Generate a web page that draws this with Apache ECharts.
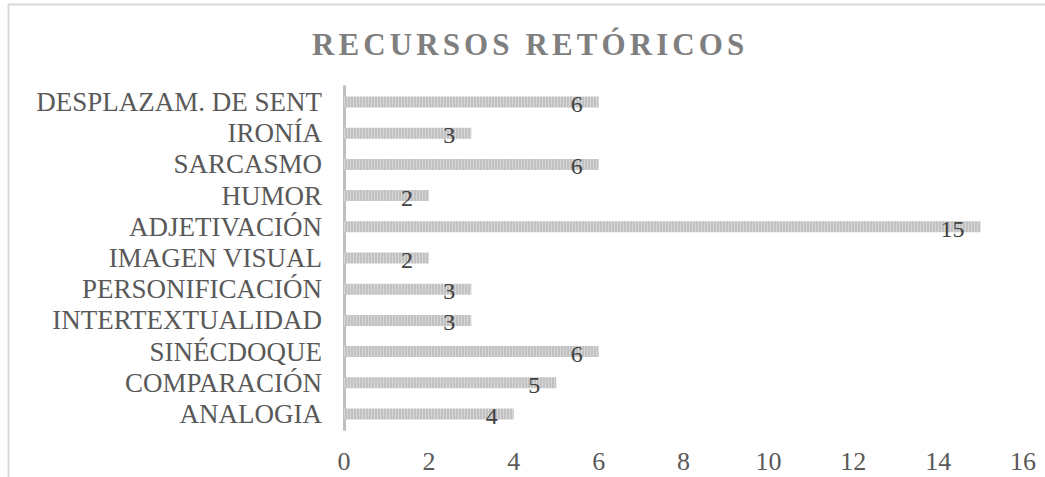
<!DOCTYPE html>
<html>
<head>
<meta charset="utf-8">
<script src="https://cdn.jsdelivr.net/npm/echarts@6/dist/echarts.min.js"></script>
<style>
html,body{margin:0;padding:0;background:#fff;}
#chart{width:1045px;height:477px;}
</style>
</head>
<body>
<div id="chart"></div>
<script>
const titleText = 'RECURSOS RETÓRICOS';
const categories = ['ANALOGIA','COMPARACIÓN','SINÉCDOQUE','INTERTEXTUALIDAD','PERSONIFICACIÓN','IMAGEN VISUAL','ADJETIVACIÓN','HUMOR','SARCASMO','IRONÍA','DESPLAZAM. DE SENT'];
const values = [4,5,6,3,3,2,15,2,6,3,6];
const xTicks = {min:0, max:16, interval:2};

const FONT = "'Liberation Serif','Times New Roman',serif";

// striped pattern for bars
const pc = document.createElement('canvas');
pc.width = 3; pc.height = 4;
const pctx = pc.getContext('2d');
pctx.fillStyle = '#c2c2c2'; pctx.fillRect(0,0,3,4);
pctx.fillStyle = '#d6d6d6'; pctx.fillRect(2,0,1,4);
const patternUrl = pc.toDataURL();

const chart = echarts.init(document.getElementById('chart'), null, {renderer:'svg'});
chart.setOption({
  animation:false,
  backgroundColor:'#fff',
  title:{
    text:titleText,
    left:307, top:24,
    textStyle:{fontFamily:FONT,fontSize:31,fontWeight:'bold',color:'#7f7f7f'}
  },
  graphic:[{
    type:'rect', silent:true,
    shape:{x:8.5,y:4.5,width:1200,height:700},
    style:{fill:'none',stroke:'#d9d9d9',lineWidth:2}
  }],
  grid:{left:344,right:22,top:86.4,bottom:47.4,containLabel:false},
  xAxis:{
    type:'value', min:xTicks.min, max:xTicks.max, interval:xTicks.interval,
    axisLine:{show:false}, axisTick:{show:false}, splitLine:{show:false},
    axisLabel:{fontFamily:FONT,fontSize:26,color:'#595959',margin:19}
  },
  yAxis:{
    type:'category', data:categories,
    axisLine:{show:true,lineStyle:{color:'#bfbfbf',width:3}},
    axisTick:{show:false},
    axisLabel:{interval:0,fontFamily:FONT,fontSize:27,color:'#595959',margin:22}
  },
  series:[{
    type:'bar', data:values, barWidth:11,
    itemStyle:{color:{image:patternUrl,repeat:'repeat'}},
    label:{show:true,position:'insideRight',distance:16,offset:[0,2],
      fontFamily:FONT,fontSize:24,color:'#404040'}
  }]
});
// letter spacing for title
document.querySelectorAll('#chart svg text').forEach(t=>{
  if(t.textContent===titleText){t.setAttribute('letter-spacing','4.1');}
});
</script>
</body>
</html>
